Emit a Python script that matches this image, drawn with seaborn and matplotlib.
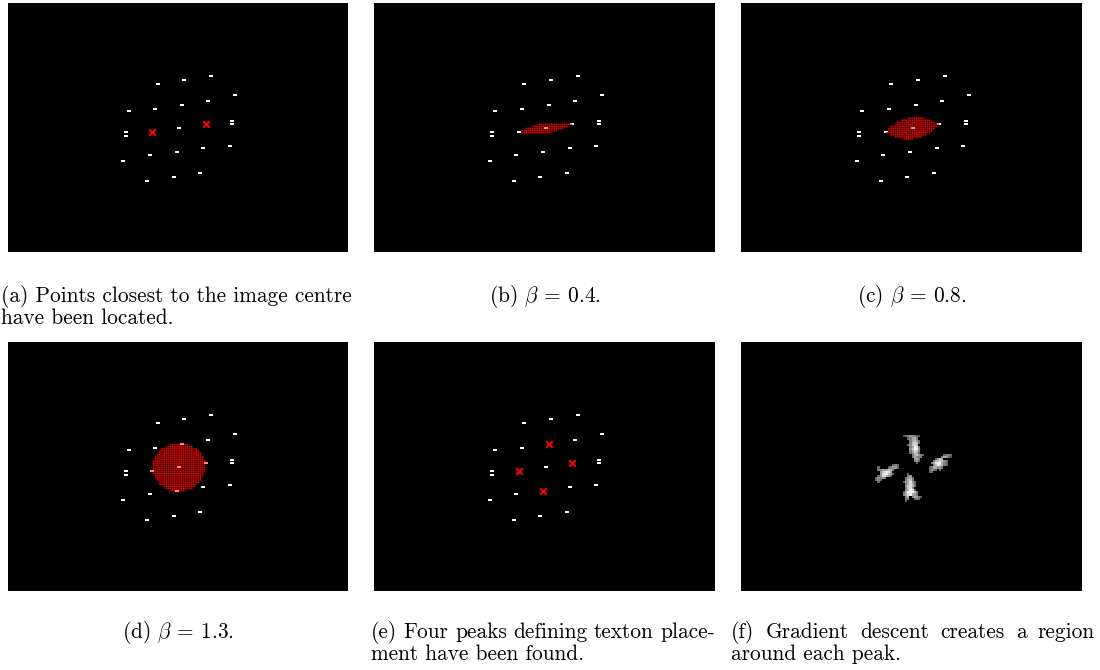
import numpy as np
import matplotlib
matplotlib.use("Agg")
import matplotlib.pyplot as plt
from matplotlib.collections import PolyCollection
from matplotlib.path import Path
import seaborn as sns

# ---------------------------------------------------------------------------
# Data (image pixel units of a 160 x 120 frame, y pointing down)
# ---------------------------------------------------------------------------
IMG_W, IMG_H = 160, 120

# detected lattice points that are not texton peaks
dot_x = [70.6, 83.0, 95.5, 106.8, 56.8, 69.3, 94.3, 105.6, 105.6, 55.5,
         55.5, 80.6, 66.8, 91.9, 104.3, 54.3, 65.6, 78.1, 90.5]
dot_y = [38.9, 37.0, 35.0, 44.5, 51.9, 50.9, 47.1, 56.7, 58.5, 62.2,
         64.1, 60.4, 73.4, 69.7, 68.8, 76.3, 85.6, 83.7, 81.8]

# the four texton peaks: top, right, left, bottom
peak_x = [81.9, 93.0, 67.9, 79.4]
peak_y = [49.2, 58.5, 62.2, 71.7]

# the two points closest to the image centre (left and right peak)
seed_idx = [2, 1]

# beta values and the half thickness of the resulting region at mid-chord
beta_values = [0.4, 0.8, 1.3]
region_half_width = [2.6, 5.3, 11.9]

# grey-level regions grown around each peak by gradient descent (0..9)
blob_top_origin = (76, 45)
blob_top_rows = [
    "23454432...",
    "..34664....",
    "...46753...",
    "...47873...",
    "..35787....",
    "...46984...",
    "...57995...",
    "...46874...",
    "...35763...",
    "....467543.",
    "....46544..",
    ".....564...",
    ".....453...",
    "......3....",
]
blob_right_origin = (88, 54)
blob_right_rows = [
    ".......3443",
    "......46532",
    "...3576....",
    "..4678753..",
    ".46899643..",
    "..5798643..",
    "3466554....",
    "3543.3.....",
    "33.........",
]
blob_left_origin = (63, 59)
blob_left_rows = [
    "........343.",
    ".3....34553.",
    ".44656764...",
    "..578986....",
    "..5899753...",
    ".3587653....",
    "35454.......",
    "343.........",
    ".3..........",
]
blob_bottom_origin = (75, 63)
blob_bottom_rows = [
    "...3......",
    "...45.....",
    "..3563....",
    "..4674....",
    ".356853...",
    "..46863...",
    "..57864...",
    "..4785....",
    "..56983...",
    ".3699974..",
    ".4689654..",
    "..46.46543",
    "..44..343.",
    "..3.......",
]

captions = [
    ["(a) Points closest to the image centre", "have been located."],
    [r"(b) $\beta$ = 0.4."],
    [r"(c) $\beta$ = 0.8."],
    [r"(d) $\beta$ = 1.3."],
    ["(e) Four peaks defining texton place-", "ment have been found."],
    ["(f) Gradient descent creates a region", "around each peak."],
]

# ---------------------------------------------------------------------------
# Style
# ---------------------------------------------------------------------------
sns.set_style("white")
plt.rcParams["font.family"] = ["cmr10", "DejaVu Serif"]
plt.rcParams["mathtext.fontset"] = "cm"

FIG_W, FIG_H = 1100, 670
fig = plt.figure(figsize=(FIG_W / 100, FIG_H / 100), dpi=100)

# panel boxes in pixels: left, top, right, bottom
boxes = [
    (8, 3, 348, 252), (374, 3, 715, 252), (741, 3, 1082, 252),
    (8, 342, 348, 591), (374, 342, 715, 591), (741, 342, 1082, 591),
]


def make_axes(box):
    l, t, r, b = box
    ax = fig.add_axes([l / FIG_W, 1 - b / FIG_H, (r - l) / FIG_W, (b - t) / FIG_H])
    ax.set_facecolor("black")
    return ax


def finish(ax):
    ax.set_xlim(0, IMG_W)
    ax.set_ylim(IMG_H, 0)
    ax.set_xticks([])
    ax.set_yticks([])
    ax.set_xlabel("")
    ax.set_ylabel("")
    for s in ax.spines.values():
        s.set_visible(False)


dot_marker = [(-1.0, -0.62), (1.0, -0.62), (1.0, 0.62), (-1.0, 0.62)]


def draw_dots(ax, xs, ys, color="#ffffff", z=2):
    if len(xs):
        sns.scatterplot(x=list(xs), y=list(ys), ax=ax, marker=dot_marker, s=5.2,
                        color=color, linewidth=0, zorder=z)


def draw_crosses(ax, xs, ys):
    sns.scatterplot(x=xs, y=ys, ax=ax, marker="x", s=22,
                    color="#ff0000", linewidth=1.5, zorder=4)


def lens_outline(p, q, h, n=80):
    p, q = np.asarray(p, float), np.asarray(q, float)
    m = (p + q) / 2
    v = q - p
    c = np.linalg.norm(v) / 2
    u = v / (2 * c)
    nrm = np.array([-u[1], u[0]])
    R = (c ** 2 + h ** 2) / (2 * h)
    off = R - h
    s = np.linspace(-c, c, n)
    y = np.sqrt(np.maximum(R ** 2 - s ** 2, 0)) - off
    upper = m + np.outer(s, u) + np.outer(y, nrm)
    lower = m + np.outer(s[::-1], u) - np.outer(y[::-1], nrm)
    return np.vstack([upper, lower])


left_seed = (peak_x[seed_idx[0]], peak_y[seed_idx[0]])
right_seed = (peak_x[seed_idx[1]], peak_y[seed_idx[1]])
other_peaks = [i for i in range(4) if i not in seed_idx]

# (a) seed points
ax = make_axes(boxes[0])
draw_dots(ax, dot_x + [peak_x[i] for i in other_peaks],
          dot_y + [peak_y[i] for i in other_peaks])
draw_crosses(ax, [left_seed[0], right_seed[0]], [left_seed[1], right_seed[1]])
finish(ax)

# (b)-(d) regions for increasing beta, rasterised on the image pixel grid
all_x = np.array(dot_x + peak_x)
all_y = np.array(dot_y + peak_y)
cx, cy = np.meshgrid(np.arange(IMG_W) + 0.5, np.arange(IMG_H) + 0.5)
INSET = 0.12  # dark gap left between neighbouring region pixels
for k, h in enumerate(region_half_width):
    ax = make_axes(boxes[1 + k])
    lens = Path(lens_outline(left_seed, right_seed, h))
    cells = lens.contains_points(np.column_stack([cx.ravel(), cy.ravel()]),
                                 radius=0.15).reshape(cx.shape)
    inside = lens.contains_points(np.column_stack([all_x, all_y]), radius=0.6)
    draw_dots(ax, all_x[~inside], all_y[~inside])
    rr, cc = np.nonzero(cells)
    a, b = INSET, 1 - INSET
    squares = [[(c + a, r + a), (c + b, r + a), (c + b, r + b), (c + a, r + b)]
               for r, c in zip(rr, cc)]
    region = PolyCollection(squares, facecolors="#ee0000", edgecolors="none",
                            linewidths=0, antialiaseds=True, zorder=3)
    region.set_snap(False)
    ax.add_collection(region)
    # points covered by the region show through in a light red
    draw_dots(ax, all_x[inside], all_y[inside], color="#ff8c8c", z=5)
    finish(ax)

# (e) all four peaks
ax = make_axes(boxes[4])
draw_dots(ax, dot_x, dot_y)
draw_crosses(ax, peak_x, peak_y)
finish(ax)

# (f) regions grown around each peak
grid = np.zeros((IMG_H, IMG_W))
for (c0, r0), rows in [(blob_top_origin, blob_top_rows),
                       (blob_right_origin, blob_right_rows),
                       (blob_left_origin, blob_left_rows),
                       (blob_bottom_origin, blob_bottom_rows)]:
    for i, row in enumerate(rows):
        for j, ch in enumerate(row):
            if ch != ".":
                grid[r0 + i, c0 + j] = int(ch)
ax = make_axes(boxes[5])
sns.heatmap(grid, ax=ax, mask=grid == 0, cmap="gray", vmin=-1.5, vmax=9.6,
            cbar=False, xticklabels=False, yticklabels=False, rasterized=True)
ax.set_facecolor("black")
finish(ax)

# ---------------------------------------------------------------------------
# Captions
# ---------------------------------------------------------------------------
FS = 15.4
renderer = fig.canvas.get_renderer()


def put_line(x, y, text, ha):
    fig.text(x / FIG_W, 1 - y / FIG_H, text, ha=ha, va="center",
             fontsize=FS, color="black")


def put_justified(x0, x1, y, text):
    words = text.split(" ")
    widths = []
    for w in words:
        t = fig.text(0, 0, w, fontsize=FS)
        widths.append(t.get_window_extent(renderer).width)
        t.remove()
    gap = (x1 - x0 - sum(widths)) / (len(words) - 1)
    x = x0
    for w, wd in zip(words, widths):
        put_line(x, y, w, "left")
        x += wd + gap


# (alignment, x, x_end for justified first lines, y of first line)
cap_layout = [
    ("left", 1, None, 296), ("center", 544.5, None, 296),
    ("center", 911.5, None, 296), ("center", 178, None, 632),
    ("left", 371, 715, 632), ("left", 731, 1095, 632),
]
LINE = 22
for (ha, x, x_end, y), lines in zip(cap_layout, captions):
    for i, line in enumerate(lines):
        yy = y + i * LINE
        if i == 0 and x_end is not None and len(lines) > 1:
            put_justified(x, x_end, yy, line)
        else:
            put_line(x, yy, line, ha)

fig.savefig("out.png", dpi=100, facecolor="white")
